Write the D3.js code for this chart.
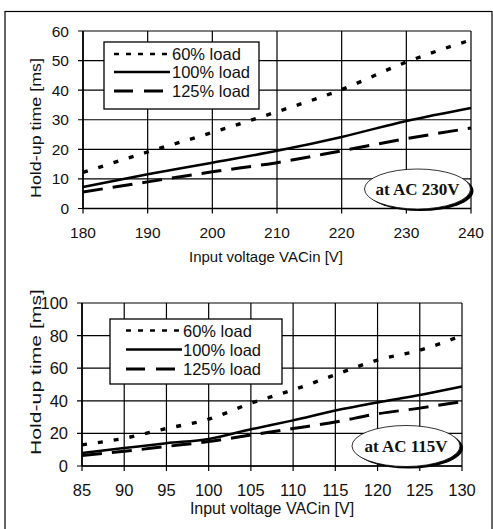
<!DOCTYPE html>
<html>
<head>
<meta charset="utf-8">
<script src="https://cdn.jsdelivr.net/npm/d3@7"></script>
<style>
  body { margin: 0; background: #fff; }
  svg { display: block; }
</style>
</head>
<body>
<div id="chart"></div>
<script>
// Data
var vin230 = [180, 190, 200, 210, 220, 230, 240];
var load60_230 = [12.2, 19.1, 25.7, 32.7, 40.2, 49.5, 57];
var load100_230 = [7.3, 11.6, 15.5, 19.5, 24.2, 29.6, 34];
var load125_230 = [5.6, 9, 12.4, 15.5, 19.5, 23.6, 27.2];

var vin115 = [85, 90, 95, 100, 105, 110, 115, 120, 125, 130];
var load60_115 = [13, 17, 23, 28.7, 38.5, 46.7, 56, 65, 71, 80];
var load100_115 = [8, 11, 14, 16.6, 22.5, 28, 34, 39, 43.6, 48.8];
var load125_115 = [6.5, 9, 12, 15, 19, 23, 27, 32, 35.5, 39.5];

var legendLabels = ['60% load', '100% load', '125% load'];
var labelXTitle = 'Input voltage VACin [V]';
var labelYTitle = 'Hold-up time [ms]';

var svgWidth = 493;
var svgHeight = 529;

var svg = d3.select('#chart')
    .append('svg')
    .attr('width', svgWidth)
    .attr('height', svgHeight)
    .style('font-family', 'Arial, "Liberation Sans", sans-serif');

// outer frame
svg.append('rect')
    .attr('x', 5).attr('y', 11.5)
    .attr('width', 487).attr('height', 540)
    .attr('fill', 'none')
    .attr('stroke', '#000')
    .attr('stroke-width', 1.2);

var styles = [
    {dash: '5,11', width: 3.4, legendDash: '5,7', legendWidth: 2.4},
    {dash: null, width: 2.5, legendDash: null, legendWidth: 2.5},
    {dash: '20,10', width: 3, legendDash: '19,11', legendWidth: 3}
];

var panels = [
    {
        xs: vin230, series: [load60_230, load100_230, load125_230],
        left: 83, right: 471, top: 31, bottom: 208.5,
        xDomain: [180, 240], xStep: 10, yDomain: [0, 60], yStep: 10,
        tickFont: 15.5, titleFont: 15, yTitleLen: 140,
        xTickY: 232, xTitleX: 266, xTitleY: 256, yTitleX: 35, yTitleY: 128,
        legend: {x: 104, y: 42, w: 155, h: 67, lineX0: 114, lineX1: 170, textX: 172, rows: [54, 72, 91], font: 16.5},
        oval: {cx: 417.5, cy: 189, rx: 53, ry: 20, text: 'at AC 230V'}
    },
    {
        xs: vin115, series: [load60_115, load100_115, load125_115],
        left: 82, right: 462, top: 303, bottom: 466,
        xDomain: [85, 130], xStep: 5, yDomain: [0, 100], yStep: 20,
        tickFont: 16.5, titleFont: 16, yTitleLen: 166,
        xTickY: 490, xTitleX: 272, xTitleY: 508, yTitleX: 35, yTitleY: 372,
        legend: {x: 110, y: 319, w: 172, h: 65, lineX0: 126, lineX1: 182, textX: 183, rows: [330.5, 349.5, 369], font: 16.5},
        oval: {cx: 406, cy: 446, rx: 54, ry: 20.5, text: 'at AC 115V'}
    }
];

panels.forEach(function(p) {
    var x = d3.scaleLinear().domain(p.xDomain).range([p.left, p.right]);
    var y = d3.scaleLinear().domain(p.yDomain).range([p.bottom, p.top]);
    var xTicks = d3.range(p.xDomain[0], p.xDomain[1] + 0.001, p.xStep);
    var yTicks = d3.range(p.yDomain[0], p.yDomain[1] + 0.001, p.yStep);

    var g = svg.append('g');

    // grid lines with outward ticks
    g.selectAll('.vgrid')
        .data(xTicks)
        .enter()
        .append('line')
        .attr('x1', d => x(d)).attr('x2', d => x(d))
        .attr('y1', p.top).attr('y2', p.bottom + 5)
        .attr('stroke', '#000').attr('stroke-width', 1.2);

    g.selectAll('.hgrid')
        .data(yTicks)
        .enter()
        .append('line')
        .attr('x1', p.left - 5).attr('x2', p.right)
        .attr('y1', d => y(d)).attr('y2', d => y(d))
        .attr('stroke', '#000').attr('stroke-width', 1.2);

    // axis lines a bit heavier
    g.append('line')
        .attr('x1', p.left).attr('x2', p.left)
        .attr('y1', p.top).attr('y2', p.bottom)
        .attr('stroke', '#000').attr('stroke-width', 1.6);
    g.append('line')
        .attr('x1', p.left).attr('x2', p.right)
        .attr('y1', p.bottom).attr('y2', p.bottom)
        .attr('stroke', '#000').attr('stroke-width', 1.6);

    // tick labels
    g.selectAll('.xlab')
        .data(xTicks)
        .enter()
        .append('text')
        .attr('x', d => x(d))
        .attr('y', p.xTickY)
        .attr('text-anchor', 'middle')
        .attr('dominant-baseline', 'central')
        .attr('font-size', p.tickFont + 'px')
        .attr('fill', '#111')
        .text(d => d);

    g.selectAll('.ylab')
        .data(yTicks)
        .enter()
        .append('text')
        .attr('x', p.left - 14)
        .attr('y', d => y(d))
        .attr('text-anchor', 'end')
        .attr('dominant-baseline', 'central')
        .attr('font-size', p.tickFont + 'px')
        .attr('fill', '#111')
        .text(d => d);

    // axis titles
    g.append('text')
        .attr('x', p.xTitleX)
        .attr('y', p.xTitleY)
        .attr('text-anchor', 'middle')
        .attr('dominant-baseline', 'central')
        .attr('font-size', p.titleFont + 'px')
        .attr('fill', '#111')
        .text(labelXTitle);

    g.append('text')
        .attr('transform', `translate(${p.yTitleX},${p.yTitleY}) rotate(-90)`)
        .attr('text-anchor', 'middle')
        .attr('dominant-baseline', 'central')
        .attr('font-size', '15px')
        .attr('textLength', p.yTitleLen)
        .attr('lengthAdjust', 'spacingAndGlyphs')
        .attr('fill', '#111')
        .text(labelYTitle);

    // series lines
    var line = d3.line()
        .x((d, i) => x(p.xs[i]))
        .y(d => y(d))
        .curve(d3.curveMonotoneX);

    p.series.forEach(function(s, i) {
        g.append('path')
            .datum(s)
            .attr('d', line)
            .attr('fill', 'none')
            .attr('stroke', '#000')
            .attr('stroke-width', styles[i].width)
            .attr('stroke-dasharray', styles[i].dash);
    });

    // legend
    var L = p.legend;
    g.append('rect')
        .attr('x', L.x).attr('y', L.y)
        .attr('width', L.w).attr('height', L.h)
        .attr('fill', '#fff')
        .attr('stroke', '#000')
        .attr('stroke-width', 1.3);

    legendLabels.forEach(function(lab, i) {
        g.append('line')
            .attr('x1', L.lineX0).attr('x2', L.lineX1)
            .attr('y1', L.rows[i]).attr('y2', L.rows[i])
            .attr('stroke', '#000')
            .attr('stroke-width', styles[i].legendWidth)
            .attr('stroke-dasharray', styles[i].legendDash);
        g.append('text')
            .attr('x', L.textX)
            .attr('y', L.rows[i])
            .attr('dominant-baseline', 'central')
            .attr('font-size', L.font + 'px')
            .attr('fill', '#111')
            .text(lab);
    });

    // voltage oval with shadow
    var O = p.oval;
    g.append('ellipse')
        .attr('cx', O.cx + 3).attr('cy', O.cy + 2)
        .attr('rx', O.rx).attr('ry', O.ry)
        .attr('fill', '#000');
    g.append('ellipse')
        .attr('cx', O.cx).attr('cy', O.cy)
        .attr('rx', O.rx).attr('ry', O.ry)
        .attr('fill', '#fff')
        .attr('stroke', '#000')
        .attr('stroke-width', 0.8);
    g.append('text')
        .attr('x', O.cx)
        .attr('y', O.cy)
        .attr('text-anchor', 'middle')
        .attr('dominant-baseline', 'central')
        .attr('font-family', '"Liberation Serif", "Times New Roman", serif')
        .attr('font-weight', 'bold')
        .attr('font-size', '17px')
        .attr('fill', '#111')
        .text(O.text);
});
</script>
</body>
</html>
